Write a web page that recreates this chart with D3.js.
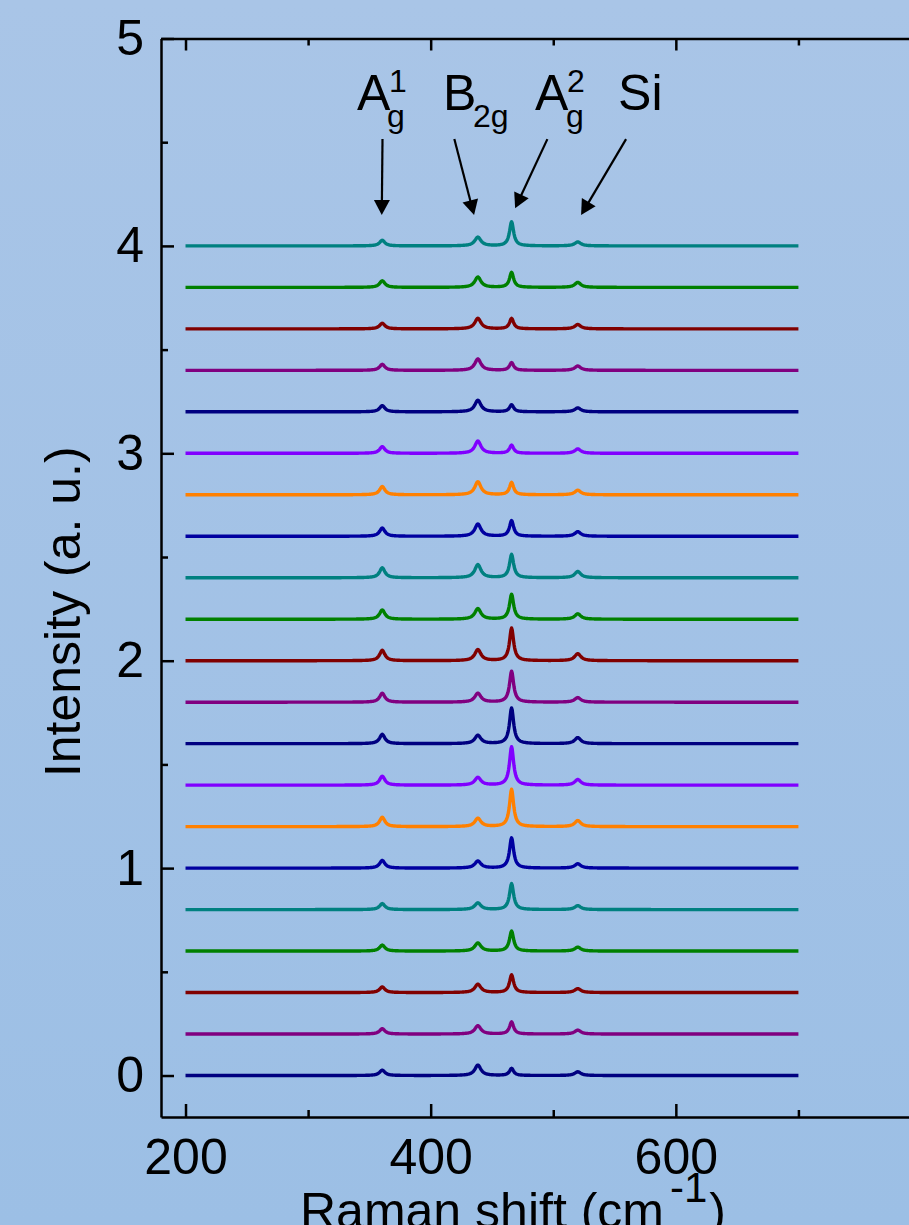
<!DOCTYPE html>
<html>
<head>
<meta charset="utf-8">
<script src="https://cdn.jsdelivr.net/npm/d3@7.9.0/dist/d3.min.js"></script>
<style>
body { margin: 0; }
svg { display: block; font-family: "Liberation Sans", Arial, sans-serif; }
</style>
</head>
<body>
<div id="chart"></div>
<script>
// ---------- DATA ----------

// vertical offset of each spectrum (bottom to top)
const offsets = [0, 0.2, 0.4, 0.6, 0.8, 1.0, 1.2, 1.4, 1.6, 1.8, 2.0,
                 2.2, 2.4, 2.6, 2.8, 3.0, 3.2, 3.4, 3.6, 3.8, 4.0];

// Raman modes: centre (cm-1) and half width
const peakNames = ["A1g", "B2g", "A2g", "Si"];
const peakCenters = [360.5, 438.5, 466, 520];
const peakWidths = [2.6, 3, 2, 3];

// peak heights (a. u.), bottom to top
const heightA1g = [0.026, 0.026, 0.027, 0.029, 0.029, 0.037, 0.045, 0.043, 0.045, 0.043, 0.050,
                   0.045, 0.048, 0.040, 0.040, 0.032, 0.030, 0.029, 0.027, 0.032, 0.027];
const heightB2g = [0.050, 0.040, 0.040, 0.039, 0.032, 0.034, 0.040, 0.037, 0.040, 0.043, 0.053,
                   0.051, 0.063, 0.059, 0.063, 0.059, 0.056, 0.055, 0.051, 0.050, 0.042];
const heightA2g = [0.034, 0.058, 0.085, 0.096, 0.125, 0.146, 0.180, 0.185, 0.172, 0.149, 0.157,
                   0.120, 0.112, 0.075, 0.059, 0.039, 0.034, 0.037, 0.050, 0.072, 0.116];
const heightSi  = [0.018, 0.019, 0.019, 0.019, 0.019, 0.021, 0.029, 0.027, 0.029, 0.022, 0.034,
                   0.026, 0.030, 0.022, 0.022, 0.021, 0.019, 0.021, 0.021, 0.024, 0.019];

// Origin colour cycle
const lineColors = ["#000080", "#800080", "#800000", "#008000",
                    "#008080", "#0000a0", "#ff8000", "#8000ff"];

// measured range of the spectra
const shiftStart = 200;
const shiftEnd = 700;

// axis ticks
const xMajor = [200, 400, 600];
const xMinor = [300, 500, 700];
const yMajor = [0, 1, 2, 3, 4, 5];
const yMinor = [0.5, 1.5, 2.5, 3.5, 4.5];

// annotation arrows (data coords): tail -> tip
const arrows = [
    { x1: 360.7, y1: 4.515, x2: 360.1, y2: 4.149 },
    { x1: 419.3, y1: 4.515, x2: 435.4, y2: 4.149 },
    { x1: 495.2, y1: 4.515, x2: 468.9, y2: 4.181 },
    { x1: 559.4, y1: 4.515, x2: 522.7, y2: 4.149 }
];
// annotation labels: main letter, subscript, superscript
const labels = [
    { x: 339.9, y: 4.655, main: "A", sub: "g", sup: "1", subDx: 30, supDx: 32 },
    { x: 410.1, y: 4.655, main: "B", sub: "2g", sup: "", subDx: 30, supDx: 0 },
    { x: 485.2, y: 4.655, main: "A", sub: "g", sup: "2", subDx: 31, supDx: 32 },
    { x: 552.9, y: 4.655, main: "Si", sub: "", sup: "", subDx: 0, supDx: 0 }
];

// ---------- LAYOUT ----------

const width = 909;
const height = 1225;

const x = d3.scaleLinear().domain([180, 800]).range([161, 921]);
const y = d3.scaleLinear().domain([-0.2, 5]).range([1117, 38.5]);

const svg = d3.select("#chart")
    .append("svg")
    .attr("width", width)
    .attr("height", height);

// BACKGROUND
const grad = svg.append("defs").append("linearGradient")
    .attr("id", "bg")
    .attr("x1", 0).attr("y1", 0).attr("x2", 0).attr("y2", 1);
grad.append("stop").attr("offset", "0%").attr("stop-color", "#a9c5e7");
grad.append("stop").attr("offset", "100%").attr("stop-color", "#9cbfe5");

svg.append("rect")
    .attr("width", width)
    .attr("height", height)
    .attr("fill", "url(#bg)");

// ---------- SPECTRA ----------

const heights = [heightA1g, heightB2g, heightA2g, heightSi];
const shifts = d3.range(shiftStart, shiftEnd + 0.25, 0.5);

function spectrum(i) {
    return shifts.map(s => {
        let v = offsets[i];
        for (let k = 0; k < peakCenters.length; k++) {
            const u = (s - peakCenters[k]) / peakWidths[k];
            v += heights[k][i] / (1 + u * u);
        }
        return [s, v];
    });
}

const line = d3.line()
    .x(d => x(d[0]))
    .y(d => y(d[1]));

svg.append("g")
    .selectAll("path")
    .data(offsets.map((o, i) => i))
    .join("path")
    .attr("d", i => line(spectrum(i)))
    .attr("fill", "none")
    .attr("stroke", i => lineColors[i % lineColors.length])
    .attr("stroke-width", 3.4)
    .attr("stroke-linejoin", "round");

// ---------- AXES ----------

function styleAxis(g, fontSize) {
    g.selectAll("path").attr("stroke", "#000").attr("stroke-width", 2.5);
    g.selectAll("line").attr("stroke", "#000").attr("stroke-width", 2.5);
    g.selectAll("text")
        .attr("fill", "#000")
        .attr("font-size", fontSize)
        .attr("font-family", "Liberation Sans, Arial, sans-serif");
}

// bottom
svg.append("g")
    .attr("transform", `translate(0,${y(-0.2)})`)
    .call(d3.axisBottom(x).tickValues(xMajor).tickSize(-13).tickSizeOuter(0).tickPadding(21).tickFormat(d3.format("d")))
    .call(g => styleAxis(g, 50))
    .call(g => g.selectAll("text").attr("dy", "0.71em"));
svg.append("g")
    .attr("transform", `translate(0,${y(-0.2)})`)
    .call(d3.axisBottom(x).tickValues(xMinor).tickSize(-7).tickSizeOuter(0).tickFormat(""))
    .call(g => styleAxis(g, 50))
    .call(g => g.select(".domain").remove());

// top
svg.append("g")
    .attr("transform", `translate(0,${y(5)})`)
    .call(d3.axisTop(x).tickValues(xMajor).tickSize(-12).tickSizeOuter(0).tickFormat(""))
    .call(g => styleAxis(g, 50));
svg.append("g")
    .attr("transform", `translate(0,${y(5)})`)
    .call(d3.axisTop(x).tickValues(xMinor).tickSize(-7).tickSizeOuter(0).tickFormat(""))
    .call(g => styleAxis(g, 50))
    .call(g => g.select(".domain").remove());

// left
svg.append("g")
    .attr("transform", `translate(${x(180)},0)`)
    .call(d3.axisLeft(y).tickValues(yMajor).tickSize(-13).tickSizeOuter(0).tickPadding(17).tickFormat(d3.format("d")))
    .call(g => styleAxis(g, 50));
svg.append("g")
    .attr("transform", `translate(${x(180)},0)`)
    .call(d3.axisLeft(y).tickValues(yMinor).tickSize(-7).tickSizeOuter(0).tickFormat(""))
    .call(g => styleAxis(g, 50))
    .call(g => g.select(".domain").remove());

// right
svg.append("line")
    .attr("x1", x(800)).attr("x2", x(800))
    .attr("y1", y(-0.2)).attr("y2", y(5))
    .attr("stroke", "#000").attr("stroke-width", 2.5);

// AXIS TITLES
svg.append("text")
    .attr("transform", `translate(80,${(y(-0.2) + y(5)) / 2 + 34}) rotate(-90)`)
    .attr("text-anchor", "middle")
    .attr("font-size", 50)
    .text("Intensity (a. u.)");

const xt = svg.append("text")
    .attr("x", 300)
    .attr("y", 1228)
    .attr("font-size", 50);
xt.append("tspan").text("Raman shift (cm");
xt.append("tspan").attr("dy", -26).attr("dx", 6).attr("font-size", 42).text("-1");
xt.append("tspan").attr("dy", 26).attr("dx", 2).text(")");

// ---------- ANNOTATIONS ----------

const headLen = 15;
const headHalf = 8;

arrows.forEach(a => {
    const px1 = x(a.x1), py1 = y(a.y1), px2 = x(a.x2), py2 = y(a.y2);
    const dx = px2 - px1, dy = py2 - py1;
    const len = Math.hypot(dx, dy);
    const ux = dx / len, uy = dy / len;
    const bx = px2 - ux * headLen, by = py2 - uy * headLen;

    svg.append("line")
        .attr("x1", px1).attr("y1", py1)
        .attr("x2", bx + ux * 2).attr("y2", by + uy * 2)
        .attr("stroke", "#000").attr("stroke-width", 2.2);

    svg.append("path")
        .attr("d", `M${px2},${py2}L${bx - uy * headHalf},${by + ux * headHalf}L${bx + uy * headHalf},${by - ux * headHalf}Z`)
        .attr("fill", "#000");
});

const lab = svg.append("g").selectAll("g")
    .data(labels)
    .join("g")
    .attr("transform", d => `translate(${x(d.x)},${y(d.y)})`);

lab.append("text")
    .attr("font-size", 50)
    .text(d => d.main);
lab.append("text")
    .attr("x", d => d.subDx)
    .attr("y", 17)
    .attr("font-size", 32)
    .text(d => d.sub);
lab.append("text")
    .attr("x", d => d.supDx)
    .attr("y", -18)
    .attr("font-size", 32)
    .text(d => d.sup);
</script>
</body>
</html>
